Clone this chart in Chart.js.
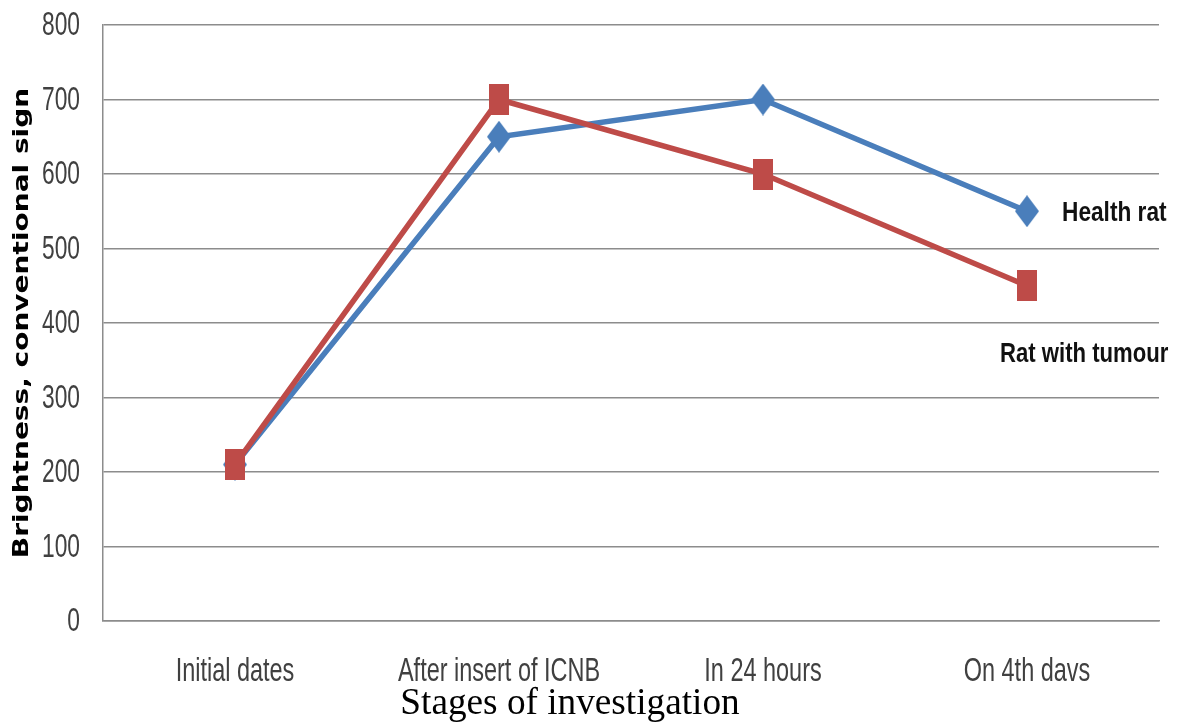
<!DOCTYPE html>
<html>
<head>
<meta charset="utf-8">
<script src="https://cdn.jsdelivr.net/npm/chart.js@4"></script>
<style>
  html, body { margin: 0; padding: 0; background: #fff; }
  #wrap { width: 1177px; height: 724px; }
</style>
</head>
<body>
<div id="wrap"><canvas id="brightChart" width="1177" height="724"></canvas></div>
<script>
const stages = ['Initial dates', 'After insert of ICNB', 'In 24 hours', 'On 4th davs'];
const healthRat = [210, 650, 700, 550];
const tumourRat = [210, 700, 600, 450];
const seriesNames = ['Health rat', 'Rat with tumour'];
const yTicks = [0, 100, 200, 300, 400, 500, 600, 700, 800];
const yTitle = 'Brightness, conventional sign';
const xTitle = 'Stages of investigation';

const blue = '#4A7EBB';
const red = '#BE4B48';

// marker pictures (the source markers are taller than they are wide)
function makeSquare(color) {
    const c = document.createElement('canvas');
    c.width = 20; c.height = 31;
    const g = c.getContext('2d');
    g.fillStyle = color;
    g.fillRect(0, 0, 20, 31);
    return c;
}
function makeDiamond(color) {
    const c = document.createElement('canvas');
    c.width = 24; c.height = 32;
    const g = c.getContext('2d');
    g.fillStyle = color;
    g.beginPath();
    g.moveTo(12, 0); g.lineTo(24, 16); g.lineTo(12, 32); g.lineTo(0, 16);
    g.closePath();
    g.fill();
    return c;
}

// squeezed text, the picture was narrowed sideways
function squeezeText(ctx, text, x, y, sx, sy, align) {
    ctx.save();
    ctx.translate(x, y);
    ctx.scale(sx, sy);
    ctx.textAlign = align;
    ctx.fillText(text, 0, 0);
    ctx.restore();
}

const textLayer = {
    id: 'textLayer',
    afterDraw(chart) {
        const ctx = chart.ctx;
        const area = chart.chartArea;
        const xs = chart.scales.x;
        const ys = chart.scales.y;
        ctx.save();

        // y tick labels
        ctx.fillStyle = '#404040';
        ctx.textBaseline = 'middle';
        ctx.font = '33px "Liberation Sans", Arial, sans-serif';
        yTicks.forEach(v => {
            squeezeText(ctx, String(v), area.left - 23, ys.getPixelForValue(v) + 1, 0.69, 1, 'right');
        });

        // category labels
        ctx.textBaseline = 'alphabetic';
        ctx.font = '34px "Liberation Sans", Arial, sans-serif';
        stages.forEach((s, i) => {
            squeezeText(ctx, s, xs.getPixelForValue(i), area.bottom + 60, 0.69, 1, 'center');
        });

        // x title
        ctx.fillStyle = '#000';
        ctx.font = '38px "Liberation Serif", "Times New Roman", serif';
        squeezeText(ctx, xTitle, 570, area.bottom + 93, 0.98, 1, 'center');

        // y title, rotated
        ctx.save();
        ctx.translate(28, 323);
        ctx.rotate(-Math.PI / 2);
        ctx.font = 'bold 28px "DejaVu Sans", Verdana, sans-serif';
        squeezeText(ctx, yTitle, 0, 0, 1, 0.73, 'center');
        ctx.restore();

        // series names next to the last points
        ctx.fillStyle = '#111';
        ctx.textBaseline = 'middle';
        ctx.font = 'bold 28px "Liberation Sans", Arial, sans-serif';
        const p0 = chart.getDatasetMeta(0).data[3];
        const p1 = chart.getDatasetMeta(1).data[3];
        squeezeText(ctx, seriesNames[0], p0.x + 35, p0.y + 2, 0.81, 1, 'left');
        squeezeText(ctx, seriesNames[1], p1.x - 27, p1.y + 69, 0.79, 1, 'left');

        ctx.restore();
    }
};

const ctx = document.getElementById('brightChart').getContext('2d');
const brightChart = new Chart(ctx, {
    type: 'line',
    data: {
        labels: stages,
        datasets: [{
            label: seriesNames[0],
            data: healthRat,
            borderColor: blue,
            backgroundColor: blue,
            borderWidth: 5.5,
            pointStyle: makeDiamond(blue),
            order: 1,
            tension: 0
        }, {
            label: seriesNames[1],
            data: tumourRat,
            borderColor: red,
            backgroundColor: red,
            borderWidth: 5.5,
            pointStyle: makeSquare(red),
            order: 0,
            tension: 0
        }]
    },
    options: {
        responsive: false,
        animation: false,
        layout: {
            padding: { top: 25, right: 18, left: 0, bottom: 0 }
        },
        plugins: {
            legend: { display: false },
            tooltip: { enabled: false }
        },
        scales: {
            x: {
                offset: true,
                grid: { display: false },
                border: { display: true, color: '#8c8c8c', width: 1.5 },
                ticks: { display: false },
                afterFit: s => { s.height = 103; }
            },
            y: {
                min: 0,
                max: 800,
                ticks: { display: false, stepSize: 100 },
                grid: { color: '#8c8c8c', lineWidth: 1.5, drawTicks: false },
                border: { display: true, color: '#8c8c8c', width: 1.5 },
                afterFit: s => { s.width = 103; }
            }
        }
    },
    plugins: [textLayer]
});
</script>
</body>
</html>
